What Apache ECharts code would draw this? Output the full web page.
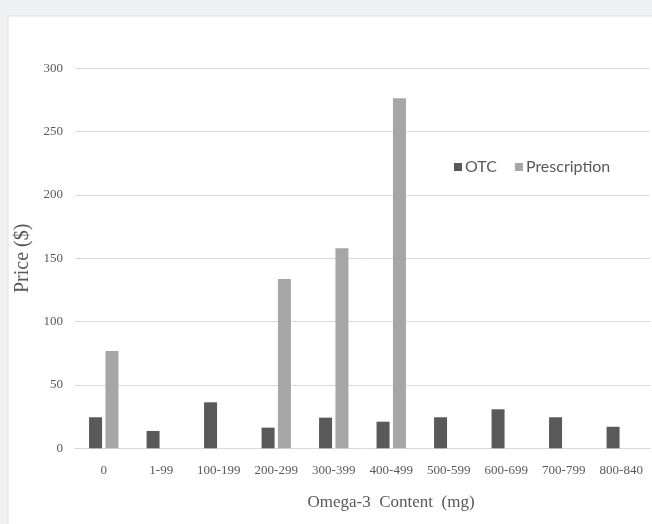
<!DOCTYPE html>
<html>
<head>
<meta charset="utf-8">
<script src="https://cdn.jsdelivr.net/npm/echarts@6/dist/echarts.min.js"></script>
<style>
html,body{margin:0;padding:0;background:#eff0f2;}
#c{width:652px;height:524px;}
</style>
</head>
<body>
<div id="c"></div>
<script>
var categories = ['0','1-99','100-199','200-299','300-399','400-499','500-599','600-699','700-799','800-840'];
var otcValues = [24.5, 13.7, 36.3, 16.3, 24.2, 21, 24.5, 30.8, 24.5, 17];
var prescriptionValues = [76.8, null, null, 133.7, 158, 276.3, null, null, null, null];
var yTicks = [0, 50, 100, 150, 200, 250, 300];

var serif = '"Liberation Serif", "DejaVu Serif", serif';
var chart = echarts.init(document.getElementById('c'), null, {renderer: 'canvas'});
chart.setOption({
  backgroundColor: '#eff0f2',
  animation: false,
  graphic: [{
    type: 'rect', z: -10, silent: true,
    shape: {x: 8, y: 16, width: 700, height: 600},
    style: {fill: '#ffffff', stroke: '#dddddd', lineWidth: 1}
  }],
  legend: {
    left: 449, top: 154,
    icon: 'rect', itemWidth: 8, itemHeight: 8, itemGap: 18,
    textStyle: {fontFamily: 'Lato, "Open Sans", sans-serif', fontSize: 16, color: '#595959', padding: [0,0,0,-2]},
    data: ['OTC', 'Prescription']
  },
  grid: {left: 75, right: 2, top: 68.3, bottom: 75.7, containLabel: false},
  xAxis: {
    type: 'category',
    data: categories,
    axisLine: {lineStyle: {color: '#d9d9d9', width: 1}},
    axisTick: {show: false},
    axisLabel: {fontFamily: serif, fontSize: 13, color: '#595959', margin: 16, interval: 0},
    name: 'Omega-3  Content  (mg)',
    nameLocation: 'middle',
    nameGap: 46,
    nameTextStyle: {fontFamily: serif, fontSize: 17, color: '#595959', padding: [0,0,0,57]}
  },
  yAxis: {
    type: 'value',
    min: yTicks[0], max: yTicks[yTicks.length-1], interval: 50,
    axisLine: {show: false},
    axisTick: {show: false},
    splitLine: {lineStyle: {color: '#d9d9d9', width: 1}},
    axisLabel: {fontFamily: serif, fontSize: 13, color: '#595959', margin: 12},
    name: 'Price ($)',
    nameLocation: 'middle',
    nameGap: 40,
    nameTextStyle: {fontFamily: serif, fontSize: 20, color: '#595959'}
  },
  series: [
    {name: 'OTC', type: 'bar', data: otcValues, barWidth: 13, barGap: '26%',
     itemStyle: {color: '#595959'}},
    {name: 'Prescription', type: 'bar', data: prescriptionValues, barWidth: 13,
     itemStyle: {color: '#a6a6a6'}}
  ]
});
</script>
</body>
</html>
